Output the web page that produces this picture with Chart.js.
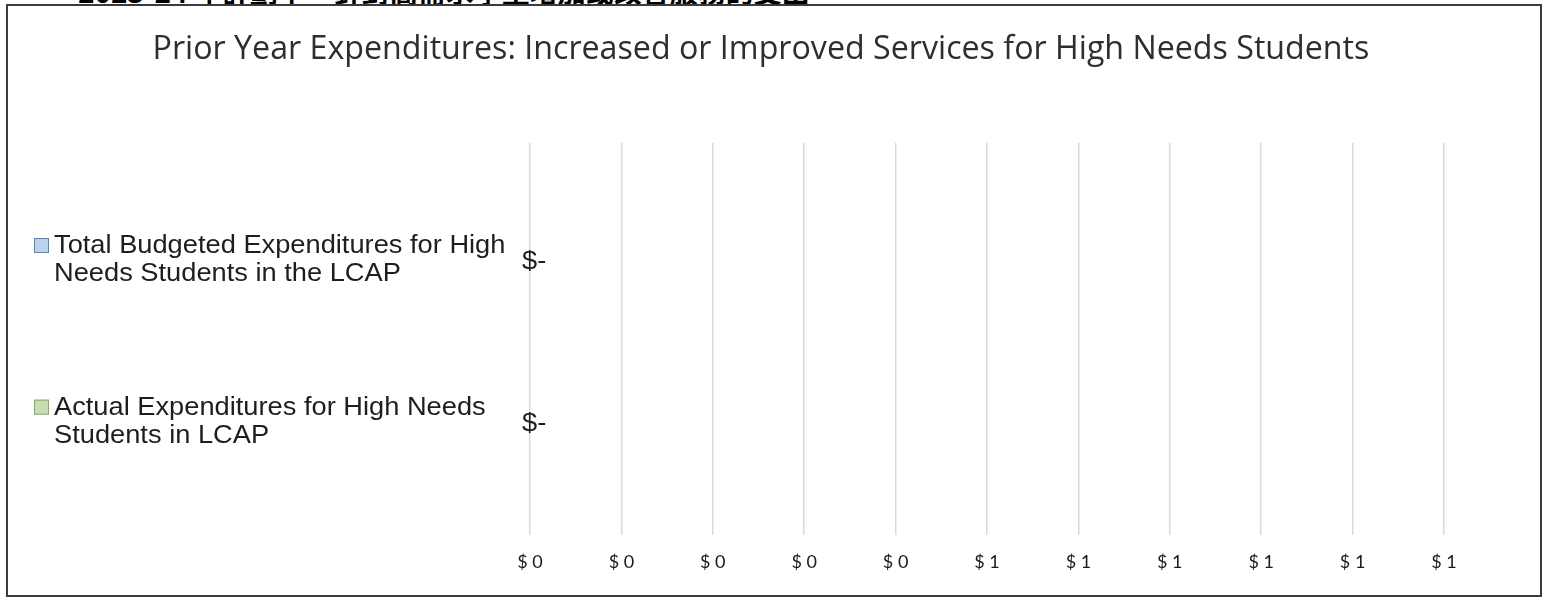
<!DOCTYPE html>
<html>
<head>
<meta charset="utf-8">
<script src="https://cdn.jsdelivr.net/npm/chart.js@4.4.1/dist/chart.umd.min.js"></script>
<style>
    html, body { margin: 0; padding: 0; background: #fff; overflow: hidden; }
    #heading {
        position: absolute; left: 78px; top: -29px; margin: 0;
        font-family: "Noto Sans CJK TC", sans-serif; font-size: 28px; font-weight: bold;
        text-decoration: underline; color: #000; white-space: nowrap;
    }
    #frame {
        position: absolute; left: 6px; top: 4px; width: 1532px; height: 589px;
        border: 2px solid #3c3c3c; background: #fff;
    }
    #chart { display: block; }
</style>
</head>
<body>
<p id="heading">2023-24 年計劃中，針對高需求學生增加或改善服務的支出</p>
<div id="frame"><canvas id="chart" width="1532" height="589"></canvas></div>
<script>
// Chart data
const chartTitle = 'Prior Year Expenditures: Increased or Improved Services for High Needs Students';
const categories = [
    ['Total Budgeted Expenditures for High', 'Needs Students in the LCAP'],
    ['Actual Expenditures for High Needs', 'Students in LCAP']
];
const expenditures = [0, 0];
const keyFills = ['#bdd3ec', '#c6deb2'];
const keyBorders = ['#5a86bf', '#86a865'];
const axisMin = 0;
const axisMax = 1;
const axisStep = 0.1;

const formatDollar = v => '$ ' + Math.round(v);
const formatLabel = v => v === 0 ? '$-' : '$' + v;

// text in the source is a bit wider than it is tall
const stretch = 1.09;

// category labels with colour keys, drawn next to each bar
const categoryLabels = {
    id: 'categoryLabels',
    afterDraw(chart) {
        const ctx = chart.ctx;
        const yScale = chart.scales.y;
        const xScale = chart.scales.x;
        ctx.save();
        ctx.font = '25px "Liberation Sans", Arial, sans-serif';
        ctx.textBaseline = 'middle';
        ctx.textAlign = 'left';
        categories.forEach((lines, i) => {
            const yc = yScale.getPixelForValue(i);
            const lineH = 28;
            const y0 = yc - (lines.length - 1) * lineH / 2;
            // key square
            ctx.fillStyle = keyFills[i];
            ctx.fillRect(26, y0 - 7, 15, 15);
            ctx.strokeStyle = keyBorders[i];
            ctx.lineWidth = 1;
            ctx.strokeRect(26.5, y0 - 6.5, 14, 14);
            ctx.fillStyle = '#1e1e1e';
            ctx.save();
            ctx.scale(stretch, 1);
            lines.forEach((t, j) => ctx.fillText(t, 46 / stretch, y0 + j * lineH + 1));
            // data label
            const xEnd = xScale.getPixelForValue(expenditures[i]);
            ctx.fillText(formatLabel(expenditures[i]), (xEnd - 8) / stretch, yc + 3);
            ctx.restore();
        });
        ctx.restore();
    }
};

const ctx = document.getElementById('chart').getContext('2d');
new Chart(ctx, {
    type: 'bar',
    data: {
        datasets: [{
            label: 'Expenditures',
            data: expenditures.map((v, i) => ({ x: v, y: i })),
            backgroundColor: keyFills,
            borderColor: keyBorders,
            borderWidth: 0,
            barPercentage: 0.6
        }]
    },
    options: {
        indexAxis: 'y',
        responsive: false,
        animation: false,
        layout: { padding: { left: 70, right: 96, top: 0, bottom: 6 } },
        scales: {
            x: {
                type: 'linear',
                min: axisMin,
                max: axisMax,
                border: { display: false },
                grid: { color: '#d9d9d9', lineWidth: 1.5, drawTicks: false },
                ticks: {
                    stepSize: axisStep,
                    padding: 16,
                    maxRotation: 0,
                    autoSkip: false,
                    color: '#1a1a1a',
                    font: { family: "'Lato', 'Open Sans', sans-serif", size: 18 },
                    callback: formatDollar
                }
            },
            y: {
                type: 'linear',
                reverse: true,
                offset: false,
                min: -0.72,
                max: 1.71,
                grid: { display: false },
                border: { display: false },
                ticks: { display: false },
                afterFit: s => { s.width = 452; }
            }
        },
        plugins: {
            legend: { display: false },
            tooltip: { enabled: false },
            title: {
                display: true,
                text: chartTitle,
                color: '#2e2e2e',
                font: { family: "'Open Sans', sans-serif", size: 32.2, weight: 'normal' },
                padding: { top: 25, bottom: 73 }
            }
        }
    },
    plugins: [categoryLabels]
});
</script>
</body>
</html>
